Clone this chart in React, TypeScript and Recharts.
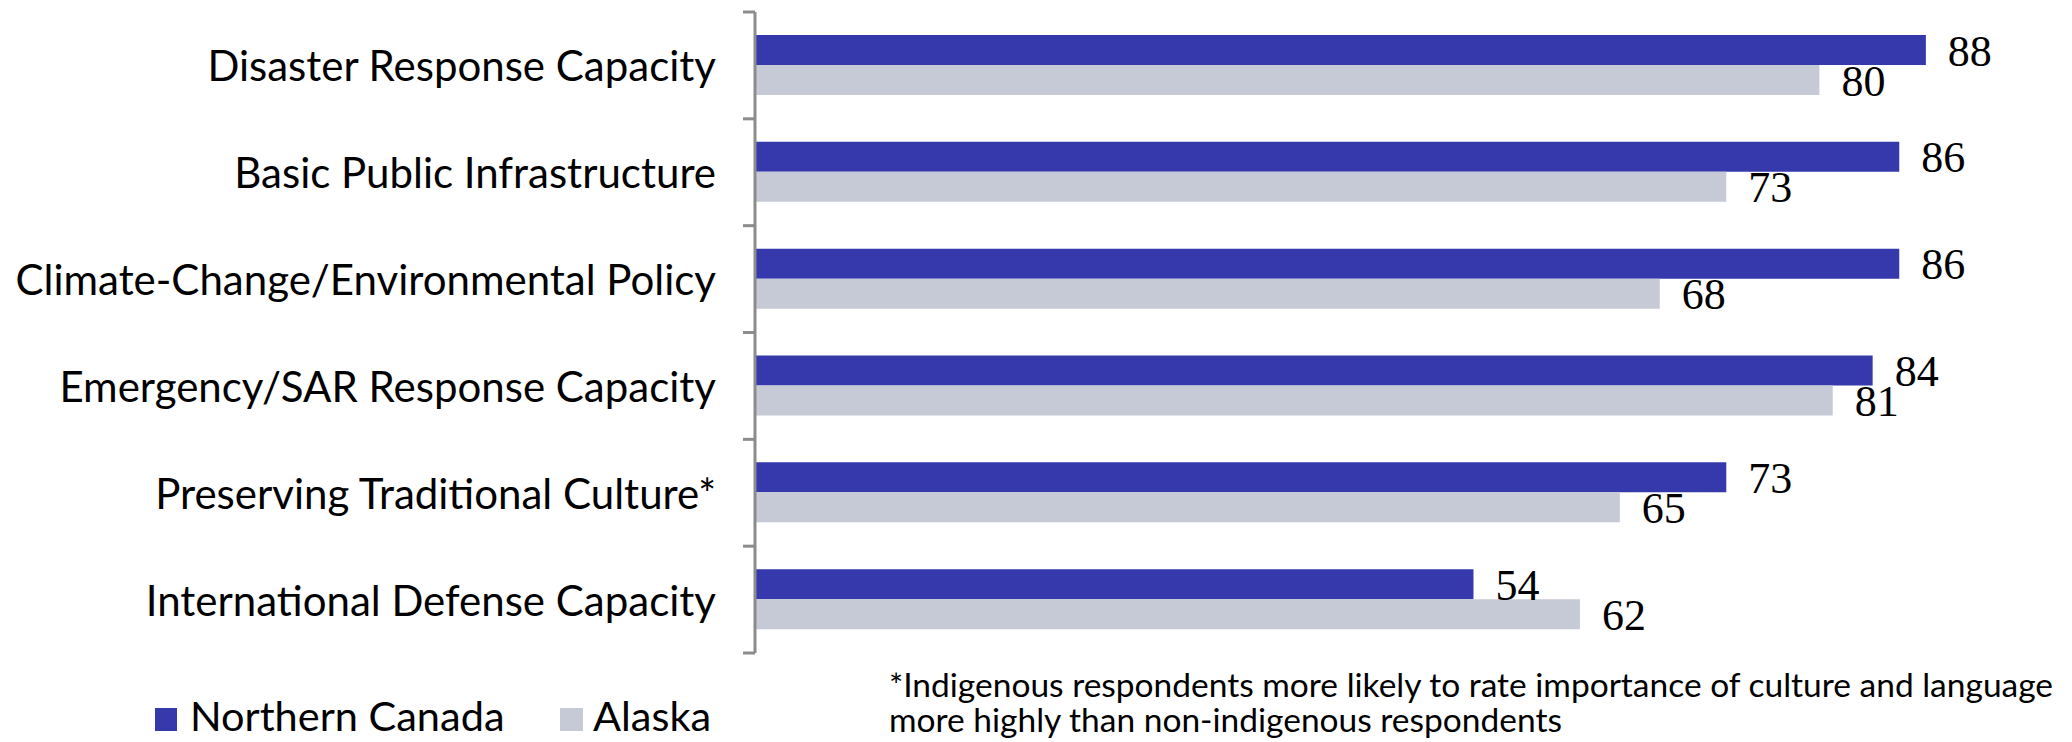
import { Bar, BarChart, LabelList, XAxis, YAxis } from 'recharts'

const categories = [
  'Disaster Response Capacity',
  'Basic Public Infrastructure',
  'Climate-Change/Environmental Policy',
  'Emergency/SAR Response Capacity',
  'Preserving Traditional Culture*',
  'International Defense Capacity',
]
const northernCanada = [88, 86, 86, 84, 73, 54]
const alaska = [80, 73, 68, 81, 65, 62]

const seriesNames = ['Northern Canada', 'Alaska']
const footnote = [
  '*Indigenous respondents more likely to rate importance of culture and language',
  'more highly than non-indigenous respondents',
]

const BLUE = '#3539AB'
const GREY = '#C6CAD6'
const AXIS = '#8C8C8C'
const SANS = 'Lato, "Open Sans", sans-serif'
const SERIF = '"Liberation Serif", "DejaVu Serif", serif'

const TICK_SIZE = 12
const TICK_MARGIN = 27

const data = categories.map((name, i) => ({
  name,
  canada: northernCanada[i],
  alaska: alaska[i],
}))

// labels + Excel-style tick marks at the category boundaries
function CategoryTick(props: any) {
  const { x, y, payload, index, visibleTicksCount } = props
  const half = payload?.offset ?? 53.4
  const axisX = x + TICK_SIZE + TICK_MARGIN
  const last = index === (visibleTicksCount ?? categories.length) - 1
  return (
    <g>
      <line x1={axisX - TICK_SIZE} x2={axisX} y1={y - half} y2={y - half} stroke={AXIS} strokeWidth={3} />
      {last && (
        <line x1={axisX - TICK_SIZE} x2={axisX} y1={y + half} y2={y + half} stroke={AXIS} strokeWidth={3} />
      )}
      <text
        x={x}
        y={y}
        textAnchor="end"
        dominantBaseline="central"
        fontFamily={SANS}
        fontSize={42}
        fill="#000"
      >
        {payload.value}
      </text>
    </g>
  )
}

export default function App() {
  return (
    <div style={{ position: 'absolute', left: 0, top: 0, width: 2072, height: 742, background: '#fff' }}>
      <BarChart
        width={2072}
        height={742}
        data={data}
        layout="vertical"
        margin={{ top: 12, right: 53, bottom: 89, left: 0 }}
        barSize={30}
        barGap={0}
      >
        <XAxis type="number" domain={[0, 95]} hide />
        <YAxis
          type="category"
          dataKey="name"
          width={755}
          axisLine={{ stroke: AXIS, strokeWidth: 3 }}
          tickLine={false}
          tickSize={TICK_SIZE}
          tickMargin={TICK_MARGIN}
          tick={<CategoryTick />}
          interval={0}
        />
        <Bar dataKey="canada" fill={BLUE} isAnimationActive={false}>
          <LabelList
            dataKey="canada"
            position="right"
            offset={22}
            fill="#000"
            fontFamily={SERIF}
            fontSize={44}
          />
        </Bar>
        <Bar dataKey="alaska" fill={GREY} isAnimationActive={false}>
          <LabelList
            dataKey="alaska"
            position="right"
            offset={22}
            fill="#000"
            fontFamily={SERIF}
            fontSize={44}
          />
        </Bar>
      </BarChart>
      <svg
        width={2072}
        height={742}
        style={{ position: 'absolute', left: 0, top: 0, pointerEvents: 'none' }}
      >
        <rect x={155} y={708} width={22} height={23} fill={BLUE} />
        <text x={190} y={731} fontFamily={SANS} fontSize={41.5} fill="#000">
          {seriesNames[0]}
        </text>
        <rect x={560} y={708} width={23} height={23} fill={GREY} />
        <text x={593} y={731} fontFamily={SANS} fontSize={41.5} fill="#000">
          {seriesNames[1]}
        </text>
        <text x={889} y={697} fontFamily={SANS} fontSize={33.5} fill="#000">
          {footnote[0]}
        </text>
        <text x={889} y={732} fontFamily={SANS} fontSize={33.5} fill="#000">
          {footnote[1]}
        </text>
      </svg>
    </div>
  )
}
